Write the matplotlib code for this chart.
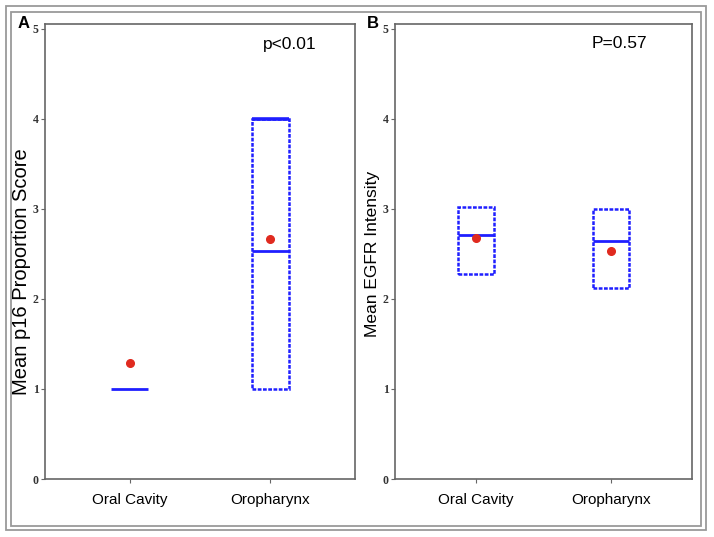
import matplotlib
matplotlib.use("Agg")
import matplotlib.pyplot as plt
from matplotlib.patches import Rectangle
import numpy as np

categories = ["Oral Cavity", "Oropharynx"]
yticks = [0, 1, 2, 3, 4, 5]

# Panel A: p16 proportion score
a_q1 = [1.0, 1.0]
a_q3 = [1.0, 4.0]
a_median = [1.0, 2.53]
a_mean = [1.29, 2.66]
a_cap_hi = [np.nan, 4.0]
a_ylabel = "Mean p16 Proportion Score"
a_ptext = "p<0.01"

# Panel B: EGFR intensity
b_q1 = [2.27, 2.12]
b_q3 = [3.02, 3.00]
b_median = [2.71, 2.64]
b_mean = [2.68, 2.53]
b_cap_hi = [np.nan, np.nan]
b_ylabel = "Mean EGFR Intensity"
b_ptext = "P=0.57"

BLUE = "#1f1fff"
RED = "#e02a1f"
SPINE = "#666666"

fig = plt.figure(figsize=(7.14, 5.37), dpi=100)

# outer double frame
for (x0, y0, x1, y1) in [(6, 6, 706, 530), (11, 12, 701, 526)]:
    fig.patches.append(Rectangle((x0 / 714, 1 - y1 / 537), (x1 - x0) / 714, (y1 - y0) / 537,
                                 transform=fig.transFigure, fill=False,
                                 edgecolor="#9a9a9a", linewidth=1.3))


def panel(rect, q1, q3, med, mean, cap_hi, ylabel, ylsize, ptext, ptx, letter, letx, ylabx, ylaby):
    ax = fig.add_axes(rect)
    pos = np.arange(1, len(categories) + 1)
    hw = 0.13
    for i, p in enumerate(pos):
        if q3[i] > q1[i]:
            ax.add_patch(Rectangle((p - hw, q1[i]), 2 * hw, q3[i] - q1[i], fill=False,
                                   edgecolor=BLUE, linewidth=1.8, linestyle=(0, (1.5, 0.6))))
        if not np.isnan(cap_hi[i]):
            ax.plot([p - hw, p + hw], [cap_hi[i], cap_hi[i]], color=BLUE, lw=2.6,
                    solid_capstyle="butt")
        ax.plot([p - hw, p + hw], [med[i], med[i]], color=BLUE, lw=2.0, solid_capstyle="butt")
    ax.plot(pos, mean, "o", color=RED, markersize=5.5, linestyle="none")
    ax.set_xlim(0.4, 2.6)
    ax.set_ylim(0, 5.05)
    ax.set_xticks(pos)
    ax.set_xticklabels(categories, fontsize=11, family="Liberation Sans")
    ax.set_yticks(yticks)
    ax.set_yticklabels([str(t) for t in yticks], fontsize=8.5, family="Liberation Serif",
                       fontweight="bold", color="#333333")
    ax.tick_params(axis="y", length=3, width=0.8, color=SPINE, pad=1.5)
    ax.tick_params(axis="x", length=3, width=0.8, color=SPINE, pad=7)
    for s in ax.spines.values():
        s.set_color(SPINE)
        s.set_linewidth(1.2)
    fig.text(ylabx / 714, 1 - ylaby / 537, ylabel, rotation=90, ha="center", va="center",
             fontsize=ylsize, family="Liberation Sans")
    fig.text(ptx / 714, 1 - 44 / 537, ptext, ha="center", va="center", fontsize=12.5,
             family="Liberation Sans")
    fig.text(letx / 714, 1 - 24 / 537, letter, ha="center", va="center", fontsize=12,
             fontweight="bold", family="Liberation Sans")
    return ax


panel([45 / 714, 58 / 537, 310 / 714, 455 / 537], a_q1, a_q3, a_median, a_mean, a_cap_hi,
      a_ylabel, 14.5, a_ptext, 290, "A", 24, 22, 272)
panel([395 / 714, 58 / 537, 297 / 714, 455 / 537], b_q1, b_q3, b_median, b_mean, b_cap_hi,
      b_ylabel, 12.5, b_ptext, 619, "B", 373, 372, 254)

fig.savefig("out.png", dpi=100)
